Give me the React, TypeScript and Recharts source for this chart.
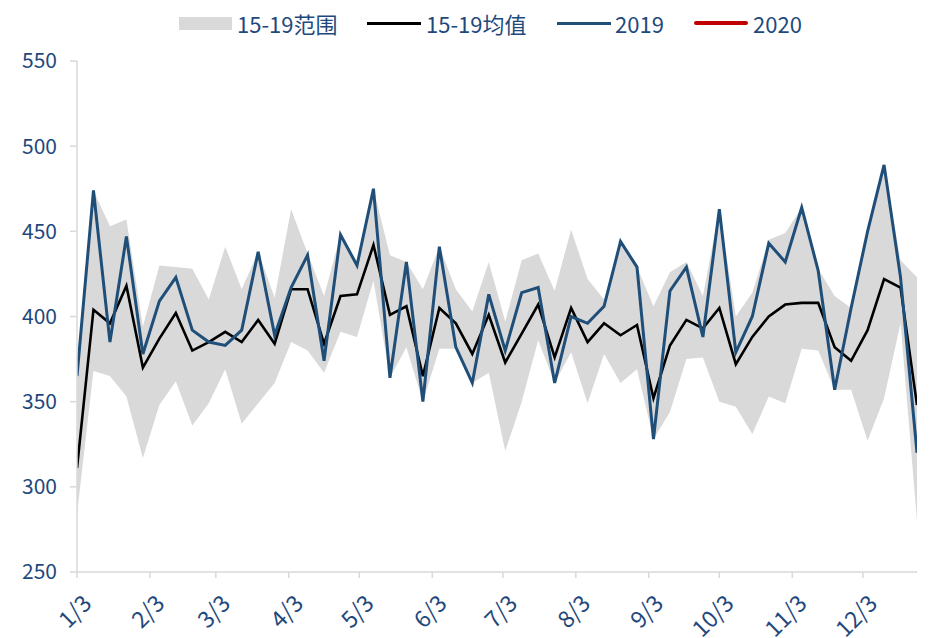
import React from 'react';
import { ComposedChart, Area, Line, XAxis, YAxis } from 'recharts';

// Day offsets from 1/3 for each weekly observation (1/3, 1/10, ... 12/26)
const dayOffsets = [
  0, 7, 14, 21, 28, 35, 42, 49, 56, 63, 70, 77, 84, 91, 98, 105, 112, 119, 126, 133,
  140, 147, 154, 161, 168, 175, 182, 189, 196, 203, 210, 217, 224, 231, 238, 245, 252,
  259, 266, 273, 280, 287, 294, 301, 308, 315, 322, 329, 336, 343, 350, 357,
];

const rangeHigh = [
  367, 474, 453, 457, 394, 430, 429, 428, 410, 441, 416, 438, 411, 463, 437, 412, 448, 431,
  475, 436, 432, 416, 441, 416, 403, 432, 397, 433, 437, 415, 451, 422, 410, 444, 429, 406,
  426, 432, 412, 463, 400, 414, 445, 449, 464, 428, 412, 405, 450, 489, 433, 423,
];

const rangeLow = [
  284, 368, 365, 353, 317, 348, 362, 336, 349, 369, 337, 349, 361, 385, 380, 367, 391, 388,
  421, 364, 382, 350, 381, 381, 361, 367, 321, 350, 386, 361, 379, 349, 378, 361, 369, 328,
  344, 375, 376, 350, 347, 331, 353, 349, 381, 380, 357, 357, 327, 352, 396, 280,
];

const avg1519 = [
  311, 404, 396, 418, 370, 387, 402, 380, 385, 391, 385, 398, 384, 416, 416, 384, 412, 413,
  442, 401, 406, 365, 405, 396, 378, 401, 373, 390, 407, 376, 405, 385, 396, 389, 395, 352,
  383, 398, 393, 405, 372, 388, 400, 407, 408, 408, 382, 374, 392, 422, 417, 348,
];

const y2019 = [
  365, 474, 385, 447, 378, 409, 423, 392, 385, 383, 392, 438, 389, 417, 436, 374, 448, 430,
  475, 364, 432, 350, 441, 382, 361, 413, 380, 414, 417, 361, 400, 396, 406, 444, 429, 328,
  415, 429, 388, 463, 379, 400, 443, 432, 464, 427, 357, 405, 450, 489, 423, 320,
];

const y2020: (number | null)[] = [];

const monthTicks = [0, 31, 59, 90, 120, 151, 181, 212, 243, 273, 304, 334];
const monthTickLabels = ['1/3', '2/3', '3/3', '4/3', '5/3', '6/3', '7/3', '8/3', '9/3', '10/3', '11/3', '12/3'];
const yTicks = [250, 300, 350, 400, 450, 500, 550];

const legendLabels = ['15-19范围', '15-19均值', '2019', '2020'];

const TEXT = '#1F497D';
const FONT = '"Noto Sans CJK SC", "Noto Sans", sans-serif';
const GRID = '#D9D9D9';
const BLUE = '#1F4E79';
const RED = '#C00000';

const data = dayOffsets.map((d, i) => ({
  day: d,
  range: [rangeLow[i], rangeHigh[i]],
  avg: avg1519[i],
  y2019: y2019[i],
  y2020: y2020[i] ?? null,
}));

const XTick = (props: any) => {
  const { x, y, payload } = props;
  const idx = monthTicks.indexOf(payload.value);
  return (
    <text
      transform={`translate(${x + 16},${y + 25}) rotate(-45)`}
      textAnchor="end"
      fill={TEXT}
      fontSize={23}
      fontFamily={FONT}
    >
      {monthTickLabels[idx]}
    </text>
  );
};

const legendItem = (marker: React.ReactNode, label: string, textLeft: number) => (
  <React.Fragment key={label}>
    {marker}
    <span
      style={{
        position: 'absolute',
        left: textLeft,
        top: 9,
        fontSize: 22,
        lineHeight: '28px',
        color: TEXT,
        fontFamily: FONT,
        whiteSpace: 'nowrap',
      }}
    >
      {label}
    </span>
  </React.Fragment>
);

export default function App() {
  return (
    <div style={{ position: 'absolute', left: 0, top: 0, width: 930, height: 638, background: '#fff' }}>
      <ComposedChart
        width={930}
        height={638}
        data={data}
        margin={{ top: 61, right: 13, bottom: 0, left: 0 }}
      >
        <XAxis
          dataKey="day"
          type="number"
          domain={[0, 357]}
          ticks={monthTicks}
          interval={0}
          tick={<XTick />}
          height={66}
          stroke={GRID}
          strokeWidth={1.5}
          tickLine={{ stroke: GRID, strokeWidth: 1.5 }}
          tickSize={6}
          allowDataOverflow
        />
        <YAxis
          type="number"
          domain={[250, 550]}
          ticks={yTicks}
          interval={0}
          width={77}
          stroke={GRID}
          strokeWidth={1.5}
          tickLine={{ stroke: GRID, strokeWidth: 1.5 }}
          tickSize={7}
          tickMargin={13}
          tick={{ fill: TEXT, fontSize: 21, fontFamily: FONT }}
          allowDataOverflow
        />
        <Area
          type="linear"
          dataKey="range"
          stroke="none"
          fill={GRID}
          fillOpacity={1}
          isAnimationActive={false}
          dot={false}
          activeDot={false}
        />
        <Line
          type="linear"
          dataKey="avg"
          stroke="#000000"
          strokeWidth={2.6}
          dot={false}
          activeDot={false}
          isAnimationActive={false}
        />
        <Line
          type="linear"
          dataKey="y2019"
          stroke={BLUE}
          strokeWidth={3}
          dot={false}
          activeDot={false}
          isAnimationActive={false}
        />
        <Line
          type="linear"
          dataKey="y2020"
          stroke={RED}
          strokeWidth={3}
          dot={false}
          activeDot={false}
          isAnimationActive={false}
        />
      </ComposedChart>
      <div style={{ position: 'absolute', left: 0, top: 0, width: 930, height: 45 }}>
        {legendItem(
          <div style={{ position: 'absolute', left: 179, top: 17, width: 53, height: 13, background: GRID }} />,
          legendLabels[0],
          237
        )}
        {legendItem(
          <div style={{ position: 'absolute', left: 367, top: 22, width: 54, height: 3, background: '#000' }} />,
          legendLabels[1],
          426
        )}
        {legendItem(
          <div style={{ position: 'absolute', left: 557, top: 22, width: 54, height: 3, background: BLUE }} />,
          legendLabels[2],
          615
        )}
        {legendItem(
          <div style={{ position: 'absolute', left: 694, top: 21, width: 54, height: 4, borderRadius: 2, background: RED }} />,
          legendLabels[3],
          753
        )}
      </div>
    </div>
  );
}
